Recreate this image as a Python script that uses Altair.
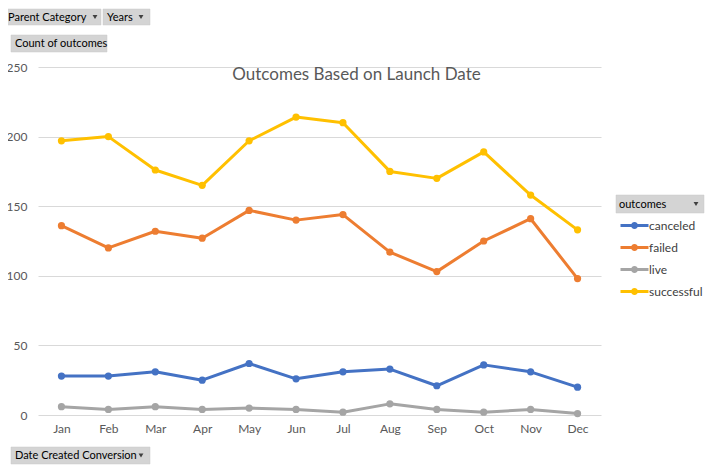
import altair as alt
import pandas as pd

months = ["Jan", "Feb", "Mar", "Apr", "May", "Jun", "Jul", "Aug", "Sep", "Oct", "Nov", "Dec"]
canceled = [28, 28, 31, 25, 37, 26, 31, 33, 21, 36, 31, 20]
failed = [136, 120, 132, 127, 147, 140, 144, 117, 103, 125, 141, 98]
live = [6, 4, 6, 4, 5, 4, 2, 8, 4, 2, 4, 1]
successful = [197, 200, 176, 165, 197, 214, 210, 175, 170, 189, 158, 133]
outcomes = ["canceled", "failed", "live", "successful"]
colors = ["#4472C4", "#ED7D31", "#A5A5A5", "#FFC000"]
y_ticks = [0, 50, 100, 150, 200, 250]
title_text = "Outcomes Based on Launch Date"

rows = []
for name, vals in zip(outcomes, [canceled, failed, live, successful]):
    for m, v in zip(months, vals):
        rows.append({"month": m, "outcome": name, "count": v})
df = pd.DataFrame(rows)

FONT = "Lato"
BTN_FONT = "Lato"
W, H = 563, 348

legend_symbol = "M-2,0H2M0.29,0A0.29,0.29,0,1,1,-0.29,0A0.29,0.29,0,1,1,0.29,0"

lines = alt.Chart(df).mark_line(
    strokeWidth=3, strokeJoin="round",
    point=alt.OverlayMarkDef(filled=True, size=52, opacity=1),
).encode(
    x=alt.X("month:N", sort=months, title=None,
            axis=alt.Axis(labelAngle=0, ticks=False, tickSize=0, domain=False, grid=False,
                          labelPadding=8, labelFont=FONT, labelFontSize=12, labelColor="#595959")),
    y=alt.Y("count:Q", title=None, scale=alt.Scale(domain=[0, 250], nice=False),
            axis=alt.Axis(values=y_ticks, ticks=False, tickSize=0, domain=False, grid=True,
                          gridColor="#d9d9d9", gridWidth=1, labelPadding=11,
                          labelFont=FONT, labelFontSize=12, labelColor="#595959")),
    color=alt.Color("outcome:N", scale=alt.Scale(domain=outcomes, range=colors),
                    legend=alt.Legend(orient="none", legendX=588, legendY=150, title=None,
                                      symbolType=legend_symbol, symbolSize=196,
                                      symbolStrokeWidth=3, labelFont=FONT, labelFontSize=12,
                                      labelColor="#404040", labelOffset=6, rowPadding=5,
                                      padding=0)),
    order=alt.Order("month_idx:Q"),
).transform_calculate(
    month_idx="indexof(" + str(months) + ", datum.month)"
)


def button(label, x1, x2, y1, y2, tx, tri=None):
    d = pd.DataFrame({"label": [label]})
    r = alt.Chart(d).mark_rect(color="#d4d4d4", stroke="#c8c8c8", strokeWidth=0.5).encode(
        x=alt.value(x1), x2=alt.value(x2), y=alt.value(y1), y2=alt.value(y2))
    t = alt.Chart(d).mark_text(align="left", baseline="middle", font=BTN_FONT, fontSize=11,
                               color="#000000").encode(
        x=alt.value(tx), y=alt.value((y1 + y2) / 2 + 0.5), text="label:N")
    layers = [r, t]
    if tri is not None:
        p = alt.Chart(d).mark_point(shape="triangle-down", filled=True, size=24,
                                    color="#404040", opacity=1).encode(
            x=alt.value(tri), y=alt.value((y1 + y2) / 2))
        layers.append(p)
    return layers


decor = []
decor += button("Parent Category", -33, 63, -58, -42, -30, 57)
decor += button("Years", 65, 112, -58, -42, 69, 103)
decor += button("Count of outcomes", -27, 69, -32, -15, -23)
decor += button("Date Created Conversion", -27, 112, 380, 397, -23, 103)
decor += button("outcomes", 578, 666, 128, 146, 581, 658)

title = alt.Chart(pd.DataFrame({"t": [title_text]})).mark_text(
    align="center", baseline="middle", font=FONT, fontSize=17, color="#595959"
).encode(x=alt.value(318.5), y=alt.value(8), text="t:N")

chart = alt.layer(lines, title, *decor).properties(
    width=W, height=H,
    padding={"left": 30, "top": 59, "right": 106, "bottom": 51},
    autosize=alt.AutoSizeParams(type="none"),
    background="white",
).configure_view(stroke=None)

chart.save("out.html", embed_options={"renderer": "svg", "actions": False})
